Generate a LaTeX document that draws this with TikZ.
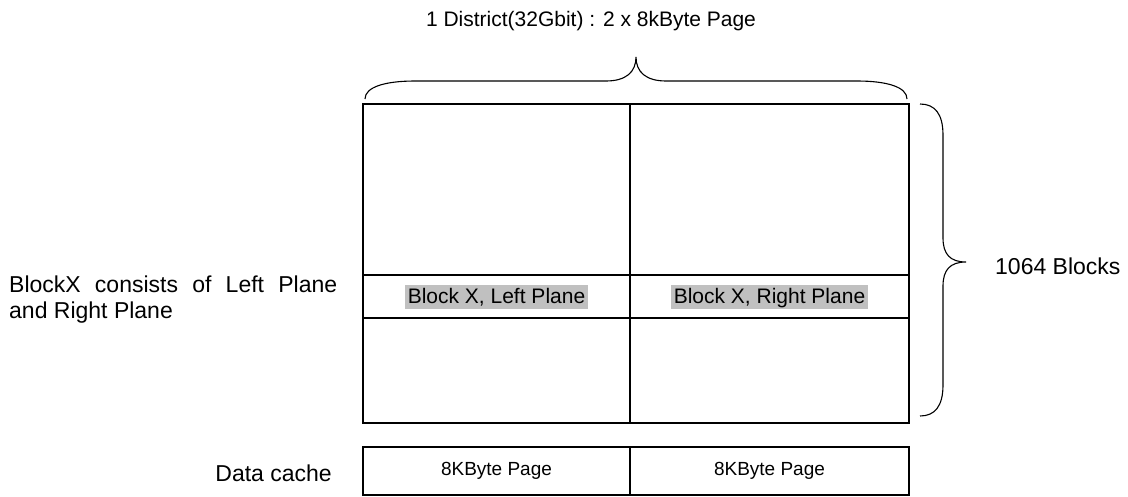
\documentclass[tikz,border=0pt]{standalone}
\usepackage{fontspec}
\setmainfont{Liberation Sans}
\usetikzlibrary{positioning}

\begin{document}
\begin{tikzpicture}[
  x=1pt, y=-1pt,
  cell/.style={draw, line width=2pt, inner sep=0pt, outer sep=0pt, anchor=north west},
  lcell/.style={cell, minimum width=267pt},
  rcell/.style={cell, minimum width=279pt},
  hl/.style={fill={rgb,255:red,192;green,192;blue,192}, inner xsep=3pt, inner ysep=0pt, text height=19pt, text depth=5pt, font=\fontsize{21}{24}\selectfont},
  brace/.style={draw, line width=1.1pt},
  side/.style={font=\fontsize{23}{26}\selectfont, inner sep=0pt},
  page/.style={font=\fontsize{19}{22}\selectfont}
]
\useasboundingbox (0,0) rectangle (1128,496);

% district: three rows of two planes
\node[lcell, minimum height=171pt] (tl) at (363,104) {};
\node[rcell, minimum height=171pt] (tr) at (tl.north east) {};
\node[lcell, minimum height=43pt] (ml) at (tl.south west) {};
\node[rcell, minimum height=43pt] (mr) at (ml.north east) {};
\node[lcell, minimum height=105pt] (bl) at (ml.south west) {};
\node[rcell, minimum height=105pt] (br) at (bl.north east) {};

\node[hl] (blockL) at (ml) {Block X, Left Plane};
\node[hl] (blockR) at (mr) {Block X, Right Plane};

% data cache
\node[lcell, minimum height=48pt] (cacheL) at (363,447) {};
\node[rcell, minimum height=48pt] (cacheR) at (cacheL.north east) {};
\node[page] (pageL) at (cacheL) {8KByte Page};
\node[page] (pageR) at (cacheR) {8KByte Page};
\node[side, anchor=base east] (cache) at (332,481) {Data cache};

% braces
\draw[brace] (365,99) .. controls (365,87) and (385,81) .. (415,81) -- (606,81)
  .. controls (626,81) and (636,72) .. (636,57)
  .. controls (636,72) and (646,81) .. (666,81) -- (857,81)
  .. controls (887,81) and (907,87) .. (907,99);
\draw[brace] (920,104) .. controls (935,104) and (943,114) .. (943,135) -- (943,238)
  .. controls (943,254) and (950,262) .. (966,262)
  .. controls (950,262) and (943,270) .. (943,286) -- (943,385)
  .. controls (943,406) and (935,416) .. (920,416);

\node[font=\fontsize{21}{24}\selectfont] (district) at (591,21) {1 District(32Gbit) : 2 x 8kByte Page};
\node[side, anchor=west] (blocks) at (995,266) {1064 Blocks};
\node[side, anchor=west, text width=328pt, align=justify] (planes) at (9,300)
  {BlockX consists of Left Plane and Right Plane};

\end{tikzpicture}
\end{document}
